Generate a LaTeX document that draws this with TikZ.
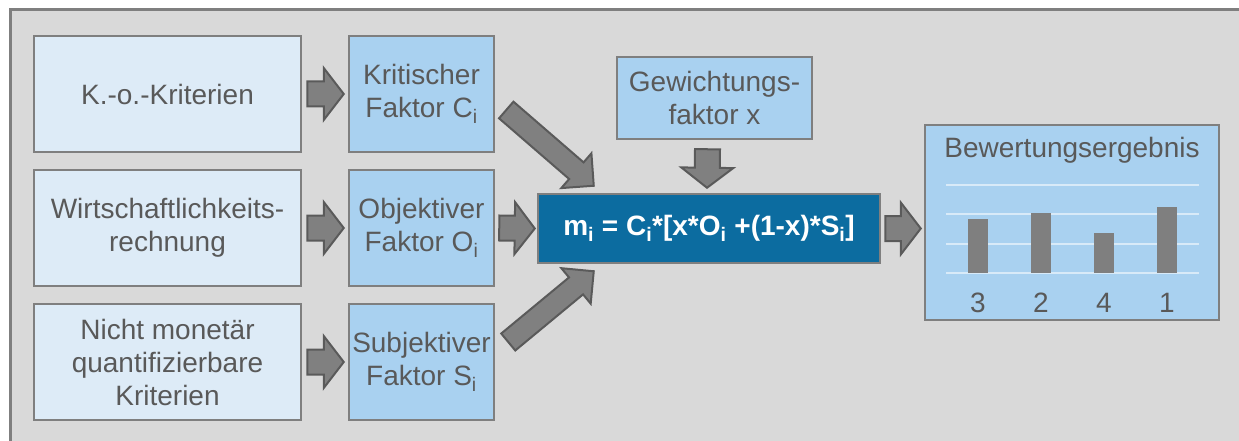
\documentclass[tikz,border=0pt]{standalone}
\usepackage{fontspec}
\setmainfont{Liberation Sans}
\usetikzlibrary{calc}

\definecolor{panelfill}{HTML}{D9D9D9}
\definecolor{edgegray}{HTML}{7F7F7F}
\definecolor{lightbox}{HTML}{DDEBF7}
\definecolor{midbox}{HTML}{A9D1F0}
\definecolor{formulablue}{HTML}{0C6CA0}
\definecolor{textgray}{HTML}{595959}
\definecolor{arrowfill}{HTML}{808080}
\definecolor{arrowline}{HTML}{5A5A5A}

% block arrow: #1 shaft half width, #2 head half width, #3 head length, #4 tail, #5 tip
\newcommand\blockarrow[5]{%
  \coordinate (ba-h) at ($(#5)!#3!(#4)$);
  \filldraw[fatarrow]
    ($(#4)!#1!90:(#5)$) -- ($(ba-h)!#1!90:(#5)$) -- ($(ba-h)!#2!90:(#5)$) -- (#5)
    -- ($(ba-h)!#2!-90:(#5)$) -- ($(ba-h)!#1!-90:(#5)$) -- ($(#4)!#1!-90:(#5)$) -- cycle;
}

\begin{document}
\begin{tikzpicture}[x=1pt, y=-1pt,
  every node/.style={text=textgray, font=\fontsize{28}{33}\selectfont, inner sep=0pt, align=center},
  srcbox/.style={draw=edgegray, line width=2.5pt, fill=lightbox, minimum width=267pt, minimum height=116pt},
  factorbox/.style={draw=edgegray, line width=2.5pt, fill=midbox, minimum width=145pt, minimum height=116pt},
  formulabox/.style={draw=edgegray, line width=2.5pt, fill=formulablue, minimum width=342pt, minimum height=69pt,
    text=white, font=\fontsize{28}{33}\selectfont\bfseries},
  fatarrow/.style={fill=arrowfill, draw=arrowline, line width=2pt, line join=miter},
  gridline/.style={draw=white!55!midbox, line width=1.5pt},
  bar/.style={fill=edgegray}
]
\useasboundingbox (0,0) rectangle (1239,441);
\fill[white] (0,0) rectangle (1239,441);
% outer panel
\draw[draw=edgegray, line width=3pt, fill=panelfill] (10,10) rectangle (1270,470);

% input criteria
\node[srcbox] (ko) at (167.5,94) {K.-o.-Kriterien};
\node[srcbox] (wirt) at (167.5,228) {Wirtschaftlichkeits-\\rechnung};
\node[srcbox] (nicht) at (167.5,362) {Nicht monetär\\quantifizierbare\\Kriterien};

% factors
\node[factorbox] (krit) at (421.5,94) {Kritischer\\Faktor C\textsubscript{i}};
\node[factorbox] (obj) at (421.5,228) {Objektiver\\Faktor O\textsubscript{i}};
\node[factorbox] (subj) at (421.5,362) {Subjektiver\\Faktor S\textsubscript{i}};

\node[factorbox, minimum width=195pt, minimum height=82pt] (gew) at (714.5,98) {Gewichtungs-\\faktor x};

% formula
\node[formulabox] (formel) at (709,228.5)
  {m\textsubscript{i} = C\textsubscript{i}*[x*O\textsubscript{i} +(1-x)*S\textsubscript{i}]};

% result panel
\node[factorbox, minimum width=294pt, minimum height=195pt] (result) at (1072,222.5) {};
\node (restitle) at (1072,150) {Bewertungsergebnis};
\foreach \gy in {185,214,244,273}
  \draw[gridline] (946,\gy) -- (1199,\gy);
\fill[bar] (968,219) rectangle (988,273);
\fill[bar] (1031,213) rectangle (1051,273);
\fill[bar] (1094,233) rectangle (1114,273);
\fill[bar] (1157,207) rectangle (1177,273);
\node (r3) at (978,303) {3};
\node (r2) at (1041,303) {2};
\node (r4) at (1104,303) {4};
\node (r1) at (1167,303) {1};

% arrow end points
\coordinate (a1s) at ($(ko.east)+(5,0)$);
\coordinate (a1e) at ($(krit.west)+(-4,0)$);
\coordinate (a2s) at ($(wirt.east)+(5,0)$);
\coordinate (a2e) at ($(obj.west)+(-4,0)$);
\coordinate (a3s) at ($(nicht.east)+(5,0)$);
\coordinate (a3e) at ($(subj.west)+(-4,0)$);
\coordinate (d1s) at ($(krit.east)+(11,16)$);
\coordinate (d1e) at ($(formel.north west)+(57,-7)$);
\coordinate (o1s) at ($(obj.east)+(4,0)$);
\coordinate (o1e) at ($(formel.west)+(-2,0)$);
\coordinate (d2s) at ($(subj.east)+(13,-20)$);
\coordinate (d2e) at ($(formel.south west)+(57,7)$);
\coordinate (g1s) at ($(gew.south)+(-7,9)$);
\coordinate (g1e) at ($(formel.north)+(-2,-5)$);
\coordinate (r1s) at ($(formel.east)+(4,0)$);
\coordinate (r1e) at ($(formel.east -| result.west)+(-3,0)$);

% arrows
\blockarrow{12.5pt}{26pt}{20pt}{a1s}{a1e}
\blockarrow{12.5pt}{26pt}{20pt}{a2s}{a2e}
\blockarrow{12.5pt}{26pt}{20pt}{a3s}{a3e}
\blockarrow{12.5pt}{26pt}{20pt}{o1s}{o1e}
\blockarrow{12.5pt}{26pt}{20pt}{g1s}{g1e}
\blockarrow{12.5pt}{26pt}{20pt}{r1s}{r1e}
\blockarrow{11pt}{23pt}{23pt}{d1s}{d1e}
\blockarrow{11pt}{23pt}{23pt}{d2s}{d2e}
\end{tikzpicture}
\end{document}
